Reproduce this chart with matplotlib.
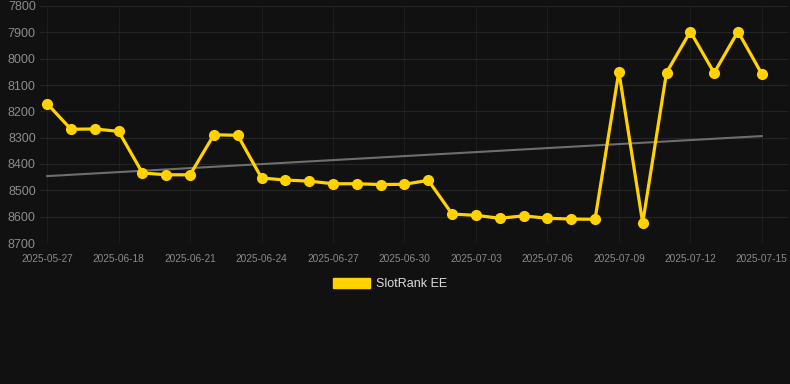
import numpy as np
import matplotlib
matplotlib.use("Agg")
import matplotlib.pyplot as plt
from matplotlib.patches import Patch

dates = ["2025-05-27", "2025-06-16", "2025-06-17", "2025-06-18", "2025-06-19",
         "2025-06-20", "2025-06-21", "2025-06-22", "2025-06-23", "2025-06-24",
         "2025-06-25", "2025-06-26", "2025-06-27", "2025-06-28", "2025-06-29",
         "2025-06-30", "2025-07-01", "2025-07-02", "2025-07-03", "2025-07-04",
         "2025-07-05", "2025-07-06", "2025-07-07", "2025-07-08", "2025-07-09",
         "2025-07-10", "2025-07-11", "2025-07-12", "2025-07-13", "2025-07-14",
         "2025-07-15"]
ranks = [8171, 8268, 8267, 8276, 8434, 8441, 8441, 8289, 8291, 8453,
         8461, 8465, 8475, 8475, 8478, 8477, 8462, 8590, 8595, 8606,
         8597, 8606, 8609, 8610, 8049, 8624, 8053, 7897, 8054, 7897,
         8058]
y_ticks = [7800, 7900, 8000, 8100, 8200, 8300, 8400, 8500, 8600, 8700]
series_name = "SlotRank EE"

BG = "#111111"
GOLD = "#FFD200"

plt.rcParams["font.family"] = ["Liberation Sans", "DejaVu Sans"]

fig = plt.figure(figsize=(7.9, 3.84), dpi=100, facecolor=BG)
ax = fig.add_axes([40 / 790, 1 - 243 / 384, 748 / 790, 237 / 384], facecolor=BG)

x = np.arange(len(dates))
ax.plot(x, ranks, color=GOLD, lw=2.3, marker="o", ms=7, zorder=3)

# trend line
k, b = np.polyfit(x, ranks, 1)
ax.plot(x, k * x + b, color="#6e6e6e", lw=1.5, zorder=2)

ax.set_ylim(8700, 7800)
ax.set_yticks(y_ticks)
ax.set_xlim(-0.3, 31.1)
tick_idx = list(range(0, len(dates), 3))
ax.set_xticks(tick_idx)
ax.set_xticklabels([dates[i] for i in tick_idx])

ax.grid(True, axis="y", color="#242424", lw=0.8)
ax.grid(True, axis="x", color="#1d1d1d", lw=0.8)
ax.set_axisbelow(True)
for s in ax.spines.values():
    s.set_visible(False)
ax.tick_params(axis="y", length=0, labelsize=9, labelcolor="#8c8c8c", pad=3)
ax.tick_params(axis="x", length=0, labelsize=7.3, labelcolor="#8a8a8a", pad=8)

fig.legend(handles=[Patch(facecolor=GOLD, edgecolor=GOLD, label=series_name)],
           loc="center", bbox_to_anchor=(390 / 790, 1 - 284 / 384),
           frameon=False, fontsize=9, labelcolor="#dddddd",
           handlelength=3.0, handleheight=0.9, handletextpad=0.5)

fig.savefig("out.png", dpi=100, facecolor=BG)
